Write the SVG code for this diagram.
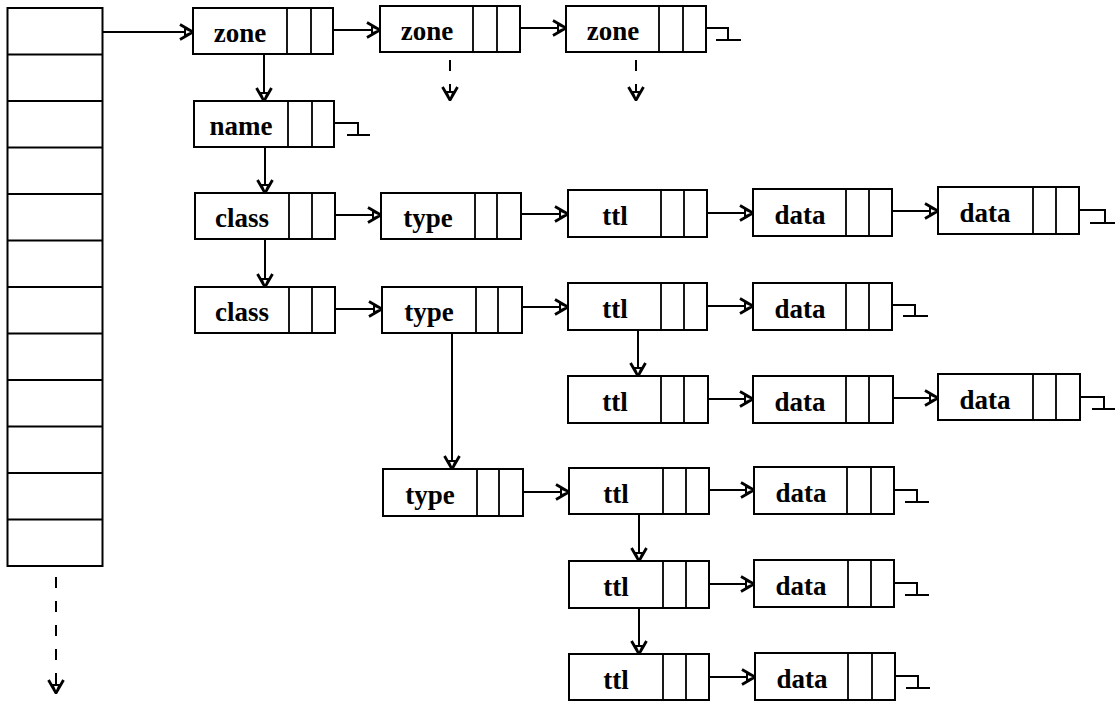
<svg xmlns="http://www.w3.org/2000/svg" width="1115" height="703" viewBox="0 0 1115 703">
<defs>
<style>
.box{fill:#fff;stroke:#000;stroke-width:2}
.div{stroke:#000;stroke-width:1.8}
.lbl{font-family:"Liberation Serif","Times New Roman",serif;font-weight:bold;font-size:27px;fill:#000;text-anchor:middle}
.c{fill:none;stroke:#000;stroke-width:2}
.d{fill:none;stroke:#000;stroke-width:2;stroke-dasharray:11 13}
.nil{fill:none;stroke:#000;stroke-width:2}
</style>
<marker id="ah" viewBox="0 0 15 18" refX="14" refY="9" markerWidth="15" markerHeight="18" markerUnits="userSpaceOnUse" orient="auto">
<path d="M1,1.5 L14,9 L1,16.5" fill="none" stroke="#000" stroke-width="2.8" stroke-linejoin="miter"/>
<path d="M6,5.5 L14,9 L6,12.5 Z" fill="#fff" stroke="#000" stroke-width="2"/>
</marker>
</defs>
<rect width="1115" height="703" fill="#fff"/>

<g id="table">
<rect class="box" x="7.5" y="8" width="95" height="558"/>
<path class="div" d="M7.5,54.5H102.5M7.5,101H102.5M7.5,147.5H102.5M7.5,194H102.5M7.5,240.5H102.5M7.5,287H102.5M7.5,333.5H102.5M7.5,380H102.5M7.5,426.5H102.5M7.5,473H102.5M7.5,519.5H102.5"/>
</g>

<g id="zone1" transform="translate(193,8)"><rect class="box" width="140" height="46"/><path class="div" d="M94,0V46M118,0V46"/><text class="lbl" x="47" y="34">zone</text></g>
<g id="zone2" transform="translate(380,6)"><rect class="box" width="140" height="46"/><path class="div" d="M93,0V46M117,0V46"/><text class="lbl" x="47" y="34">zone</text></g>
<g id="zone3" transform="translate(566,6)"><rect class="box" width="140" height="46"/><path class="div" d="M93,0V46M117,0V46"/><text class="lbl" x="47" y="34">zone</text></g>
<g id="name" transform="translate(194,101)"><rect class="box" width="140" height="46"/><path class="div" d="M94,0V46M118,0V46"/><text class="lbl" x="47" y="34">name</text></g>
<g id="class1" transform="translate(195,193)"><rect class="box" width="140" height="46"/><path class="div" d="M94,0V46M117,0V46"/><text class="lbl" x="47" y="34">class</text></g>
<g id="type1" transform="translate(381,193)"><rect class="box" width="140" height="46"/><path class="div" d="M94,0V46M116,0V46"/><text class="lbl" x="47" y="34">type</text></g>
<g id="ttl1" transform="translate(568,190)"><rect class="box" width="139" height="47"/><path class="div" d="M93,0V47M116,0V47"/><text class="lbl" x="47" y="35">ttl</text></g>
<g id="data1a" transform="translate(753,189)"><rect class="box" width="139" height="47"/><path class="div" d="M93,0V47M116,0V47"/><text class="lbl" x="47" y="35">data</text></g>
<g id="data1b" transform="translate(938,187)"><rect class="box" width="141" height="47"/><path class="div" d="M95,0V47M118,0V47"/><text class="lbl" x="47" y="35">data</text></g>
<g id="class2" transform="translate(195,287)"><rect class="box" width="140" height="46"/><path class="div" d="M94,0V46M117,0V46"/><text class="lbl" x="47" y="34">class</text></g>
<g id="type2" transform="translate(382,287)"><rect class="box" width="140" height="46"/><path class="div" d="M94,0V46M116,0V46"/><text class="lbl" x="47" y="34">type</text></g>
<g id="ttl2" transform="translate(568,283)"><rect class="box" width="139" height="47"/><path class="div" d="M93,0V47M116,0V47"/><text class="lbl" x="47" y="35">ttl</text></g>
<g id="data2a" transform="translate(753,283)"><rect class="box" width="139" height="47"/><path class="div" d="M93,0V47M116,0V47"/><text class="lbl" x="47" y="35">data</text></g>
<g id="ttl3" transform="translate(568,376)"><rect class="box" width="140" height="47"/><path class="div" d="M93,0V47M116,0V47"/><text class="lbl" x="47" y="35">ttl</text></g>
<g id="data3a" transform="translate(753,376)"><rect class="box" width="140" height="47"/><path class="div" d="M93,0V47M116,0V47"/><text class="lbl" x="47" y="35">data</text></g>
<g id="data3b" transform="translate(938,374)"><rect class="box" width="142" height="46"/><path class="div" d="M95,0V46M118,0V46"/><text class="lbl" x="47" y="35">data</text></g>
<g id="type3" transform="translate(383,469)"><rect class="box" width="140" height="47"/><path class="div" d="M94,0V47M116,0V47"/><text class="lbl" x="47" y="35">type</text></g>
<g id="ttl4" transform="translate(569,468)"><rect class="box" width="140" height="46"/><path class="div" d="M94,0V46M117,0V46"/><text class="lbl" x="47" y="35">ttl</text></g>
<g id="data4" transform="translate(754,467)"><rect class="box" width="140" height="47"/><path class="div" d="M93,0V47M117,0V47"/><text class="lbl" x="47" y="35">data</text></g>
<g id="ttl5" transform="translate(569,561)"><rect class="box" width="140" height="47"/><path class="div" d="M94,0V47M117,0V47"/><text class="lbl" x="47" y="35">ttl</text></g>
<g id="data5" transform="translate(754,560)"><rect class="box" width="140" height="47"/><path class="div" d="M94,0V47M117,0V47"/><text class="lbl" x="47" y="35">data</text></g>
<g id="ttl6" transform="translate(569,654)"><rect class="box" width="140" height="46"/><path class="div" d="M94,0V46M117,0V46"/><text class="lbl" x="47" y="35">ttl</text></g>
<g id="data6" transform="translate(755,653)"><rect class="box" width="140" height="47"/><path class="div" d="M93,0V47M117,0V47"/><text class="lbl" x="47" y="35">data</text></g>

<g id="connectors">
<path class="c" marker-end="url(#ah)" d="M102.5,32H193"/>
<path class="c" marker-end="url(#ah)" d="M333,30H380"/>
<path class="c" marker-end="url(#ah)" d="M520,28H566"/>
<path class="d" marker-end="url(#ah)" d="M450,60V100"/>
<path class="d" marker-end="url(#ah)" d="M636,60V100"/>
<path class="d" marker-end="url(#ah)" d="M56,577V693"/>
<path class="c" marker-end="url(#ah)" d="M264,54V101"/>
<path class="c" marker-end="url(#ah)" d="M265,147V193"/>
<path class="c" marker-end="url(#ah)" d="M265,239V287"/>
<path class="c" marker-end="url(#ah)" d="M335,215H381"/>
<path class="c" marker-end="url(#ah)" d="M521,214H568"/>
<path class="c" marker-end="url(#ah)" d="M707,213H753"/>
<path class="c" marker-end="url(#ah)" d="M892,211H938"/>
<path class="c" marker-end="url(#ah)" d="M335,309H382"/>
<path class="c" marker-end="url(#ah)" d="M522,307H568"/>
<path class="c" marker-end="url(#ah)" d="M707,306H753"/>
<path class="c" marker-end="url(#ah)" d="M638,330V376"/>
<path class="c" marker-end="url(#ah)" d="M708,399H753"/>
<path class="c" marker-end="url(#ah)" d="M893,398H938"/>
<path class="c" marker-end="url(#ah)" d="M452,333V469"/>
<path class="c" marker-end="url(#ah)" d="M523,492H569"/>
<path class="c" marker-end="url(#ah)" d="M709,490H754"/>
<path class="c" marker-end="url(#ah)" d="M639,514V561"/>
<path class="c" marker-end="url(#ah)" d="M709,584H754"/>
<path class="c" marker-end="url(#ah)" d="M639,608V654"/>
<path class="c" marker-end="url(#ah)" d="M709,677H755"/>
<path class="nil" d="M706,28H728V40M716,40H741"/>
<path class="nil" d="M334,123H358V135M347,135H370"/>
<path class="nil" d="M1079,210H1105V223M1090,223H1115"/>
<path class="nil" d="M892,305H915V316M903,316H928"/>
<path class="nil" d="M1080,397H1104V409M1092,409H1115"/>
<path class="nil" d="M894,490H917V502M905,502H929"/>
<path class="nil" d="M894,583H917V595M905,595H929"/>
<path class="nil" d="M895,676H918V688M906,688H930"/>
</g>
</svg>
